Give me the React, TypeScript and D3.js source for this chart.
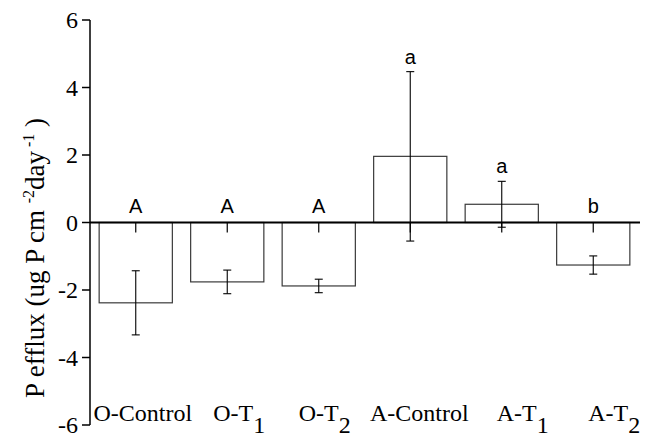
import React from "react";
import * as d3 from "d3";

const categories = ["O-Control", "O-T1", "O-T2", "A-Control", "A-T1", "A-T2"];
const means = [-2.38, -1.76, -1.88, 1.96, 0.54, -1.26];
const errors = [0.95, 0.35, 0.2, 2.51, 0.68, 0.27];
const letters = ["A", "A", "A", "a", "a", "b"];
const yTicks = [-6, -4, -2, 0, 2, 4, 6];

// layout constants (not data)
const W = 646;
const H = 437;
const left = 90;
const right = 639;
const top = 20;
const bottom = 425;
const labelNudge = [7, 12, 6, 9, 21, 21];

const serif = "Liberation Serif";
const sans = "Liberation Sans";

function splitLabel(s: string): [string, string] {
  const m = s.match(/^(.*?)(\d+)$/);
  return m ? [m[1], m[2]] : [s, ""];
}

export default function App() {
  const x = d3.scaleBand<string>().domain(categories).range([left, right]).paddingInner(0.2).paddingOuter(0.1);
  const y = d3.scaleLinear().domain([-6, 6]).range([bottom, top]);
  const bw = x.bandwidth();
  const y0 = y(0);

  return (
    <svg width={W} height={H} style={{ position: "absolute", left: 0, top: 0, background: "#fff" }}>
      {categories.map((c, i) => {
        const v = means[i];
        const x0 = x(c)!;
        return (
          <rect
            key={"b" + c}
            x={x0}
            y={Math.min(y(v), y0)}
            width={bw}
            height={Math.abs(y(v) - y0)}
            fill="#fff"
            stroke="#3a3a3a"
            strokeWidth={1.2}
          />
        );
      })}
      <line x1={left} x2={right + 1} y1={y0} y2={y0} stroke="#000" strokeWidth={2} />
      {categories.map((c) => {
        const cx = x(c)! + bw / 2;
        return <line key={"t" + c} x1={cx} x2={cx} y1={y0} y2={y0 + 10} stroke="#000" strokeWidth={1.2} />;
      })}
      {categories.map((c, i) => {
        const cx = x(c)! + bw / 2;
        const hi = y(means[i] + errors[i]);
        const lo = y(means[i] - errors[i]);
        return (
          <g key={"e" + c} stroke="#000" strokeWidth={1.1}>
            <line x1={cx} x2={cx} y1={hi} y2={lo} />
            <line x1={cx - 4} x2={cx + 4} y1={hi} y2={hi} />
            <line x1={cx - 4} x2={cx + 4} y1={lo} y2={lo} />
          </g>
        );
      })}
      {categories.map((c, i) => {
        const cx = x(c)! + bw / 2;
        const topVal = means[i] + errors[i];
        const ly = topVal > 0 ? y(topVal) - 8 : y0 - 10;
        return (
          <text key={"l" + c} x={cx} y={ly} textAnchor="middle" style={{ fontFamily: sans }} fontSize={20} fill="#000">
            {letters[i]}
          </text>
        );
      })}
      <line x1={left} x2={left} y1={top} y2={bottom} stroke="#000" strokeWidth={1.5} />
      {yTicks.map((t) => (
        <g key={"y" + t}>
          <line x1={left - 8} x2={left} y1={y(t)} y2={y(t)} stroke="#000" strokeWidth={1.5} />
          <text x={78} y={y(t)} dy="0.34em" textAnchor="end" style={{ fontFamily: serif }} fontSize={24} fill="#000">
            {t < 0 ? "-" + Math.abs(t) : String(t)}
          </text>
        </g>
      ))}
      {categories.map((c, i) => {
        const [base, sub] = splitLabel(c);
        const cx = x(c)! + bw / 2 + labelNudge[i];
        return (
          <text key={"c" + c} x={cx} y={421} textAnchor="middle" style={{ fontFamily: serif }} fontSize={24} fill="#000">
            {base}
            {sub && <tspan dy={12}>{sub}</tspan>}
          </text>
        );
      })}
      <text
        transform="rotate(-90)"
        x={-258}
        y={44}
        textAnchor="middle"
        style={{ fontFamily: serif, whiteSpace: "pre" }}
        fontSize={27}
        fill="#000"
      >
        {"P efflux (ug P cm "}
        <tspan dy={-10} fontSize={16}>-2</tspan>
        <tspan dy={10}>day</tspan>
        <tspan dy={-10} fontSize={16}>{" -1"}</tspan>
        <tspan dy={10}>{" )"}</tspan>
      </text>
    </svg>
  );
}
